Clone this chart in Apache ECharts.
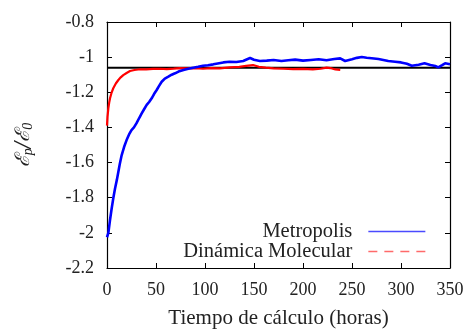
<!DOCTYPE html>
<html>
<head>
<meta charset="utf-8">
<script src="https://cdn.jsdelivr.net/npm/echarts@6/dist/echarts.min.js"></script>
<style>html,body{margin:0;padding:0;background:#fff}#c{width:470px;height:330px}</style>
</head>
<body>
<div id="c"></div>
<script>
// ---- data ----
const xTicks = [0, 50, 100, 150, 200, 250, 300, 350];
const yTicks = [-2.2, -2, -1.8, -1.6, -1.4, -1.2, -1, -0.8];
const refLevel = -1.06;
const metroX = [0, 1.4, 3, 4.8, 6.5, 8.2, 10, 11.6, 13, 15, 17.5, 20, 22.5, 25, 27.5, 30, 33, 35.4, 38, 40.5, 43, 45.6, 48, 50.7, 53, 55.8, 59, 62.6, 66, 69.4, 73, 78, 83, 88, 93, 98, 103, 108.5, 113, 118.7, 125, 132, 139, 143, 146, 150, 156, 163, 170, 178, 185, 192, 200, 208, 216, 224, 232, 238, 243, 250, 255, 260, 265, 270, 277, 282, 287, 294, 300, 306, 311, 318, 324, 330, 335, 338, 342, 345, 350];
const metroY = [-2.025, -2.0, -1.93, -1.86, -1.80, -1.747, -1.70, -1.652, -1.61, -1.557, -1.51, -1.472, -1.44, -1.415, -1.40, -1.377, -1.345, -1.32, -1.295, -1.272, -1.255, -1.234, -1.21, -1.187, -1.165, -1.14, -1.122, -1.111, -1.10, -1.092, -1.082, -1.073, -1.066, -1.06, -1.055, -1.049, -1.046, -1.041, -1.036, -1.03, -1.026, -1.028, -1.022, -1.012, -1.005, -1.015, -1.022, -1.02, -1.016, -1.022, -1.018, -1.014, -1.02, -1.016, -1.012, -1.018, -1.011, -1.007, -1.022, -1.012, -1.004, -0.999, -1.003, -1.006, -1.011, -1.016, -1.022, -1.026, -1.03, -1.038, -1.049, -1.043, -1.035, -1.045, -1.05, -1.058, -1.045, -1.035, -1.04];
const mdX = [0, 0.5, 1.4, 2.2, 3.1, 4.5, 6.4, 9, 11.6, 14, 16.6, 20, 23.5, 28, 33.7, 40, 47, 54, 61, 68, 74.5, 82, 90, 98, 106, 115, 125, 135, 142, 149, 155, 162, 170, 180, 190, 200, 210, 218, 224, 228, 233, 238];
const mdY = [-1.39, -1.34, -1.29, -1.26, -1.234, -1.205, -1.177, -1.15, -1.13, -1.115, -1.102, -1.09, -1.079, -1.073, -1.069, -1.07, -1.067, -1.066, -1.068, -1.065, -1.062, -1.064, -1.063, -1.066, -1.062, -1.064, -1.058, -1.055, -1.05, -1.045, -1.055, -1.06, -1.064, -1.066, -1.068, -1.067, -1.07, -1.066, -1.06, -1.062, -1.07, -1.072];
const seriesNames = ['Metropolis', 'Dinámica Molecular'];
const xTitle = 'Tiempo de cálculo (horas)';

const FONT = 'Liberation Serif';
const TXT = '#222';
const zip = (a, b) => a.map((v, i) => [v, b[i]]);

const tickStyle = { show: true, inside: true, length: 5, lineStyle: { color: '#000', width: 1 } };
const lineAx = { show: true, onZero: false, lineStyle: { color: '#000', width: 1.2 } };
const hiddenSym = { opacity: 0, color: 'transparent', borderWidth: 0 };

const chart = echarts.init(document.getElementById('c'), null, { renderer: 'canvas' });
chart.setOption({
  animation: false,
  backgroundColor: '#fff',
  grid: { left: 107, right: 20, top: 22, bottom: 62, containLabel: false, outerBoundsMode: 'none' },
  xAxis: [{
    type: 'value', min: xTicks[0], max: xTicks[xTicks.length - 1], interval: 50,
    axisLine: lineAx, axisTick: tickStyle, splitLine: { show: false },
    axisLabel: { margin: 13, color: TXT, fontFamily: FONT, fontSize: 18 },
    name: xTitle, nameLocation: 'middle', nameGap: 40,
    nameTextStyle: { color: TXT, fontFamily: FONT, fontSize: 21 }
  }, {
    type: 'value', position: 'top', min: xTicks[0], max: xTicks[xTicks.length - 1], interval: 50,
    axisLine: lineAx, axisTick: tickStyle, axisLabel: { show: false }, splitLine: { show: false }
  }],
  yAxis: [{
    type: 'value', min: yTicks[0], max: yTicks[yTicks.length - 1], interval: 0.2,
    axisLine: lineAx, axisTick: tickStyle, splitLine: { show: false },
    axisLabel: { margin: 13, color: TXT, fontFamily: FONT, fontSize: 18,
      formatter: v => String(Math.round(v * 10) / 10) },
    name: '{e|ℰ}{s|p}{e|/ℰ}{s|0}', nameLocation: 'middle', nameGap: 72, nameRotate: 90,
    nameTextStyle: {
      color: TXT, fontFamily: FONT, fontSize: 20,
      rich: {
        e: { fontFamily: 'DejaVu Serif', fontSize: 20, color: TXT, fontStyle: 'italic' },
        s: { fontFamily: FONT, fontSize: 14, color: TXT, fontStyle: 'italic', padding: [9, 0, 0, 0] }
      }
    }
  }, {
    type: 'value', position: 'right', min: yTicks[0], max: yTicks[yTicks.length - 1], interval: 0.2,
    axisLine: lineAx, axisTick: tickStyle, axisLabel: { show: false }, splitLine: { show: false }
  }],
  legend: [{
    data: [{ name: seriesNames[0], itemStyle: hiddenSym, lineStyle: { color: '#4a4aff', width: 1.3 } }],
    right: 39, top: 216, align: 'right', itemWidth: 57, itemHeight: 10,
    textStyle: { color: TXT, fontFamily: FONT, fontSize: 20.5, padding: [0, 11, 0, 0] },
    selectedMode: false
  }, {
    data: [{ name: seriesNames[1], itemStyle: hiddenSym, lineStyle: { color: '#ff6a6a', type: [9, 7], width: 1.3 } }],
    right: 39, top: 236, align: 'right', itemWidth: 57, itemHeight: 10,
    textStyle: { color: TXT, fontFamily: FONT, fontSize: 20.5, padding: [0, 11, 0, 0] },
    selectedMode: false
  }],
  series: [{
    name: 'ref', type: 'line', symbol: 'none', silent: true,
    data: [[xTicks[0], refLevel], [xTicks[xTicks.length - 1], refLevel]],
    lineStyle: { color: '#000', width: 2 }, z: 1
  }, {
    name: seriesNames[0], type: 'line', symbol: 'none', data: zip(metroX, metroY),
    color: '#0000ff', lineStyle: { color: '#0000ff', width: 2.6 }, z: 3
  }, {
    name: seriesNames[1], type: 'line', symbol: 'none', data: zip(mdX, mdY),
    color: '#ff0000', lineStyle: { color: '#ff0000', width: 2.2 }, z: 2
  }]
});
</script>
</body>
</html>
